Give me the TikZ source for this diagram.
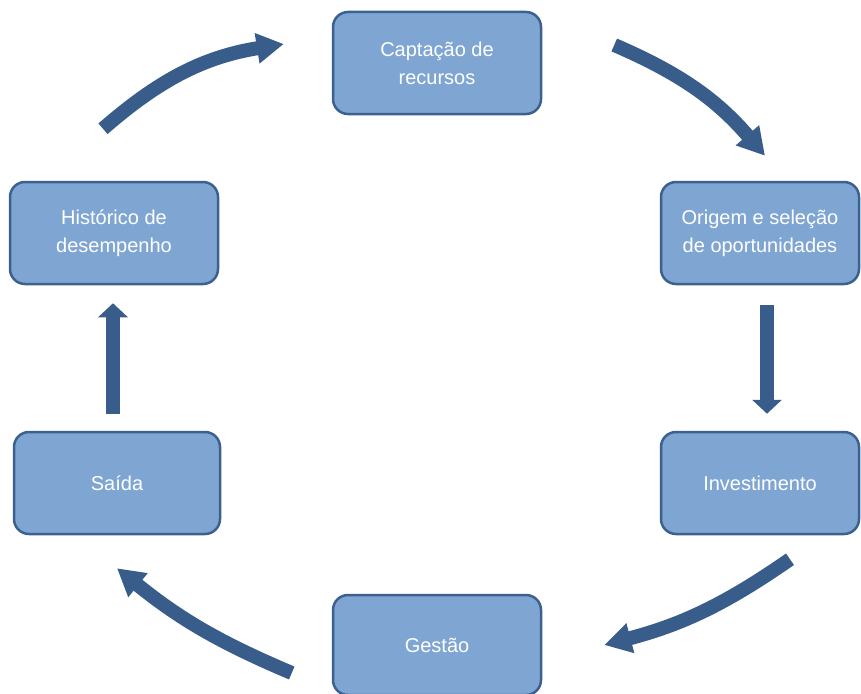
\documentclass[tikz,border=0pt]{standalone}
\usepackage{fontspec}
\setmainfont{Liberation Sans}
\usetikzlibrary{arrows.meta}

\definecolor{boxfill}{HTML}{7FA5D3}
\definecolor{boxline}{HTML}{3C6191}
\definecolor{arrowblue}{HTML}{385D8A}

\begin{document}
\begin{tikzpicture}[x=1pt,y=1pt]
  \tikzstyle{stage}=[rectangle,rounded corners=15pt,line width=2.5pt,draw=boxline,
                     fill=boxfill,text=white,align=center,
                     minimum width=208pt,minimum height=102pt,
                     font=\fontsize{20}{28}\selectfont]
  \tikzstyle{flow}=[line width=14pt,draw=arrowblue,-{Triangle[length=27pt,width=29pt]}]
  \tikzstyle{short flow}=[flow,-{Triangle[length=14pt,width=29pt]}]
  \clip (0,0) rectangle (861,-693);
  % the six stages
  \node [stage] (capt) at (437,-63) {Captação de\\recursos};
  \node [stage,minimum width=198pt] (orig) at (760,-233) {Origem e seleção\\de oportunidades};
  \node [stage,minimum width=198pt] (inv) at (760,-483) {Investimento};
  \node [stage,minimum height=100pt] (gest) at (437,-645) {Gestão};
  \node [stage,minimum width=206pt] (said) at (117,-483) {Saída};
  \node [stage] (hist) at (114,-233) {Histórico de\\desempenho};
  % the cycle
  \draw [flow] ([shift={(-11,52)}]hist.north) to[bend left=16] ([shift={(-48,19)}]capt.west);
  \draw [flow] ([shift={(72,18)}]capt.east) to[bend left=13] ([shift={(5,25)}]orig.north);
  \draw [short flow] ([shift={(7,-20)}]orig.south) -- ([shift={(7,17)}]inv.north);
  \draw [flow] ([shift={(30,-24)}]inv.south) to[bend left=10] ([shift={(62,0)}]gest.east);
  \draw [flow] ([shift={(-40,-28)}]gest.west) to[bend left=8] ([shift={(0,-33)}]said.south);
  \draw [short flow] ([shift={(-4,17)}]said.north) -- ([shift={(-1,-18)}]hist.south);
\end{tikzpicture}
\end{document}
